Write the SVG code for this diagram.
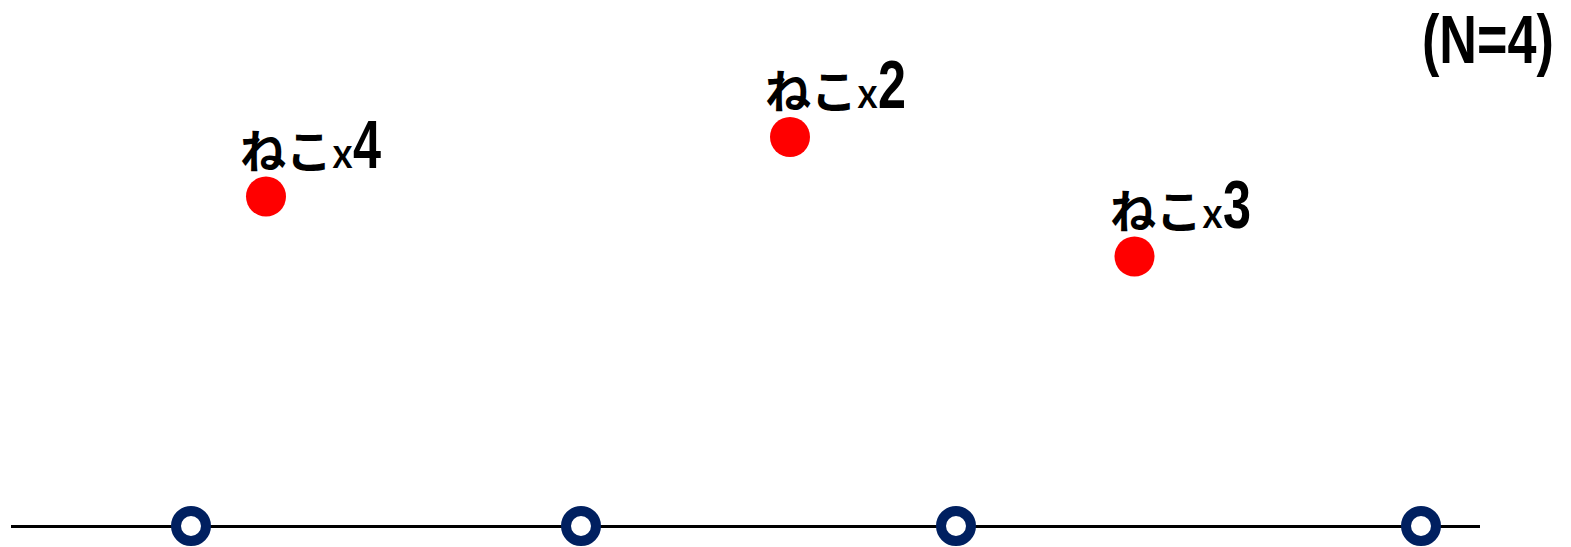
<svg xmlns="http://www.w3.org/2000/svg" width="1571" height="547" viewBox="0 0 1571 547">
<style>
.cat{fill:#ff0000}
.lbl{font-family:"Noto Sans CJK JP","Noto Sans CJK SC",sans-serif;fill:#000}
.kana{font-size:46px;font-weight:700}
.x{font-size:40px;font-weight:500}
.num{font-family:"Liberation Sans",sans-serif;font-weight:bold;font-size:68px}
.pt{fill:#fff;stroke:#002060;stroke-width:10}
.axis{stroke:#000;stroke-width:3;fill:none}
.title{font-family:"Liberation Sans",sans-serif;font-weight:bold;font-size:68px;fill:#000}
</style>
<rect width="1571" height="547" fill="#fff"/>
<g id="connectors">
<line class="axis" x1="11" y1="526.5" x2="1480" y2="526.5"/>
</g>
<g id="p1"><circle class="pt" cx="191" cy="526" r="15"/></g>
<g id="p2"><circle class="pt" cx="581" cy="526" r="15"/></g>
<g id="p3"><circle class="pt" cx="956" cy="526" r="15"/></g>
<g id="p4"><circle class="pt" cx="1421" cy="526" r="15"/></g>
<g id="cat4">
<circle class="cat" cx="266" cy="196.5" r="20"/>
<text class="lbl" x="240" y="168"><tspan class="kana">ねこ</tspan><tspan class="x">x</tspan><tspan class="num" textLength="28" lengthAdjust="spacingAndGlyphs">4</tspan></text>
</g>
<g id="cat2">
<circle class="cat" cx="790" cy="137" r="20"/>
<text class="lbl" x="765" y="108"><tspan class="kana">ねこ</tspan><tspan class="x">x</tspan><tspan class="num" textLength="28" lengthAdjust="spacingAndGlyphs">2</tspan></text>
</g>
<g id="cat3">
<circle class="cat" cx="1134.5" cy="256.5" r="20"/>
<text class="lbl" x="1110" y="227.5"><tspan class="kana">ねこ</tspan><tspan class="x">x</tspan><tspan class="num" textLength="28" lengthAdjust="spacingAndGlyphs">3</tspan></text>
</g>
<g id="title">
<text class="title" x="0" y="0" transform="translate(1422,63) scale(0.767,1)">(N=4)</text>
</g>
</svg>
